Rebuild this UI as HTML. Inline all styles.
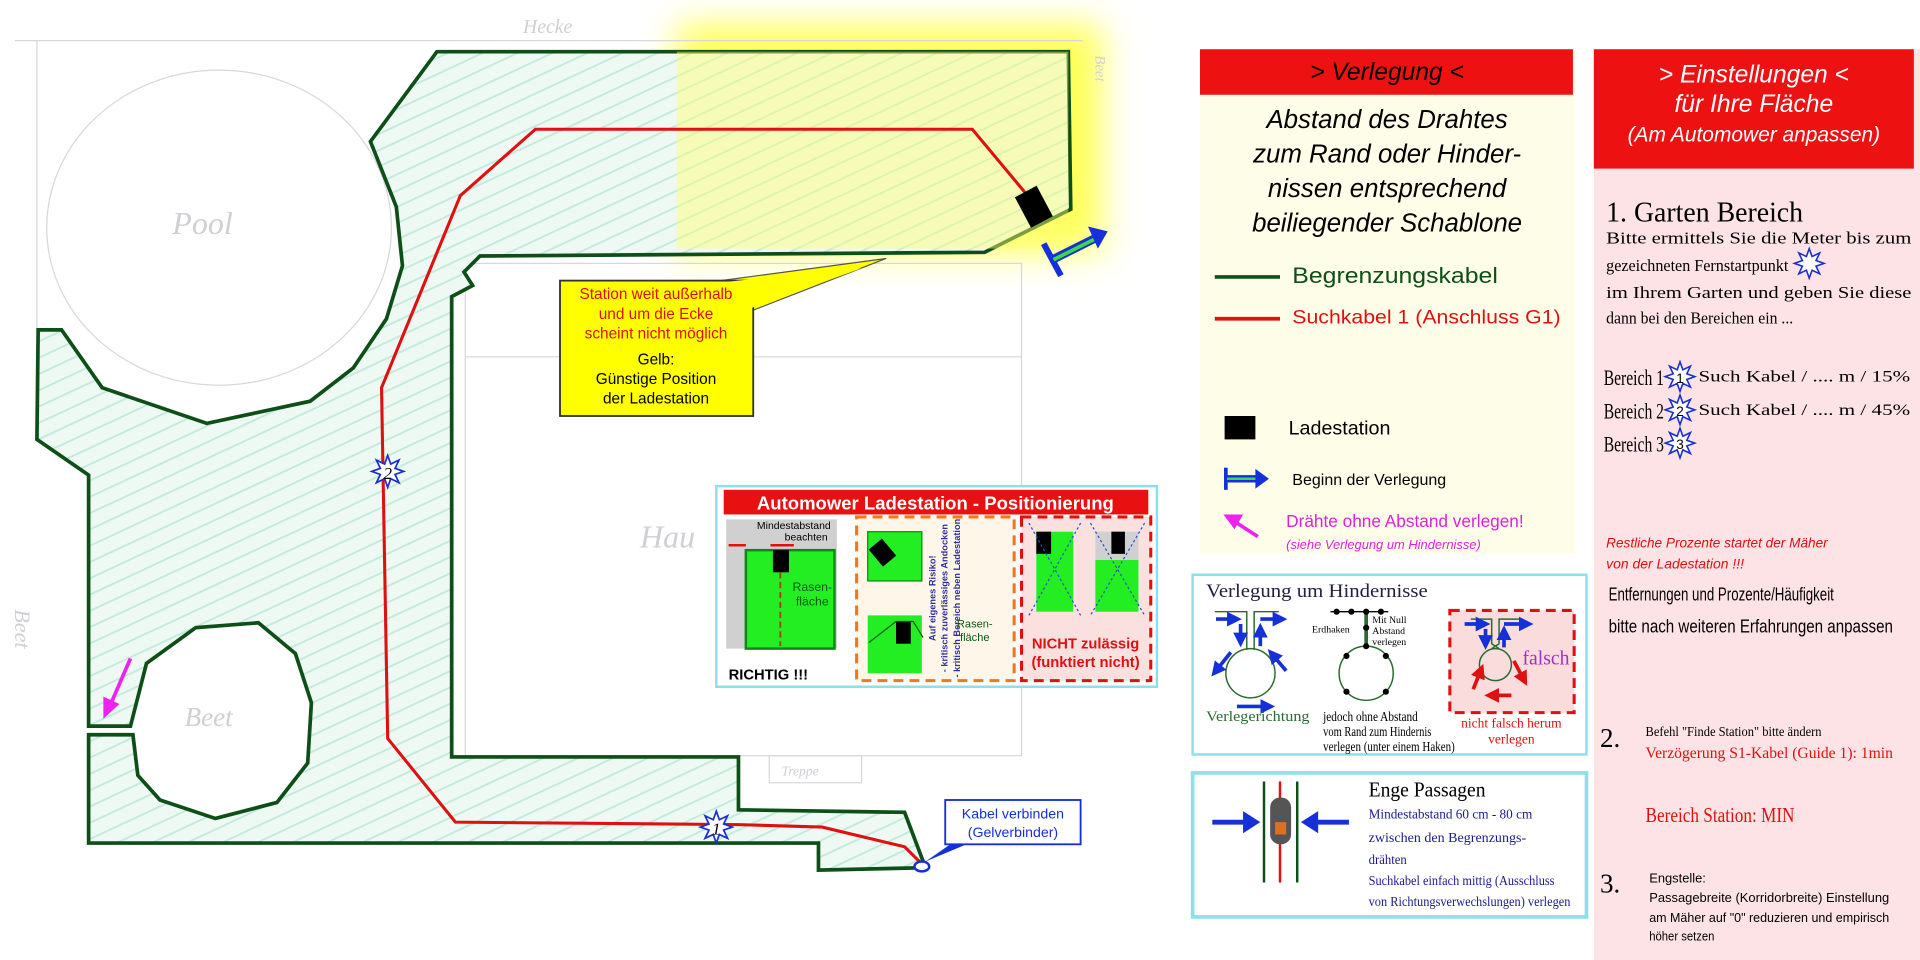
<!DOCTYPE html>
<html><head><meta charset="utf-8"><style>html,body{margin:0;padding:0;background:#fff;overflow:hidden}svg{display:block}</style></head><body>
<svg width="1920" height="960" viewBox="0 0 1560 780" xmlns="http://www.w3.org/2000/svg" font-family="Liberation Sans, DejaVu Sans, sans-serif">
<defs>
<filter id="blur" x="-20%" y="-20%" width="140%" height="140%"><feGaussianBlur stdDeviation="14"/></filter>
<pattern id="hatch" width="12" height="12" patternUnits="userSpaceOnUse" patternTransform="rotate(65)">
<rect width="12" height="12" fill="#eef9f3"/><line x1="0" y1="0" x2="0" y2="12" stroke="#c2eadb" stroke-width="3"/></pattern>
<symbol id="star" viewBox="-13 -13 26 26" overflow="visible"><polygon points="0,-12 2.3,-5.54 8.49,-8.49 5.54,-2.3 12,0 5.54,2.3 8.49,8.49 2.3,5.54 0,12 -2.3,5.54 -8.49,8.49 -5.54,2.3 -12,0 -5.54,-2.3 -8.49,-8.49 -2.3,-5.54" fill="#fff" stroke="#1a2fd0" stroke-width="1.3"/></symbol>
<marker id="ab" markerWidth="4" markerHeight="4" refX="2" refY="2" orient="auto"><path d="M0,0 L4,2 L0,4 Z" fill="#1530d8"/></marker>
<marker id="ar" markerWidth="4" markerHeight="4" refX="2" refY="2" orient="auto"><path d="M0,0 L4,2 L0,4 Z" fill="#e01010"/></marker>
</defs>

<rect x="550" y="20" width="345" height="185" fill="#ffff55" filter="url(#blur)"/>

<g stroke="#d8d8dc" fill="none" stroke-width="1">
<line x1="12" y1="33" x2="880" y2="33"/><line x1="30" y1="33" x2="30" y2="268"/>
<ellipse cx="178" cy="185" rx="140" ry="128"/>
<rect x="378" y="214" width="452" height="400"/>
<line x1="378" y1="290" x2="830" y2="290"/>
<rect x="625" y="614" width="75" height="22"/>
</g>
<g fill="#cfcfd4" font-family="Liberation Serif, serif" font-style="italic">
<text x="140" y="190" font-size="26">Pool</text>
<text x="150" y="590" font-size="22">Beet</text>
<text x="425" y="27" font-size="16">Hecke</text>
<text x="520" y="445" font-size="26">Hau</text>
<text x="635" y="630" font-size="11">Treppe</text>
<text x="12" y="495" font-size="18" transform="rotate(90 12 495)">Beet</text>
<text x="890" y="45" font-size="12" transform="rotate(90 890 45)">Beet</text>
</g>

<path d="M355,42 L868,42 L870,170 L800,205 L390,208 L377,221 L384,232 L367,241 L367,615 L600,615 L600,658 L735,660 L752,705 L665,707 L665,685 L72,685 L72,597 L108,597 L112,630 L130,650 L175,665 L225,652 L250,620 L253,571 L240,531 L210,506 L159,510 L119,539 L106,590 L72,590 L72,386 L30,357 L31,268 L50,268 L83,315 L168,344 L252,326 L287,299 L314,259 L327,216 L322,168 L301,115 Z" fill="url(#hatch)" stroke="#0e4f17" stroke-width="3"/>
<rect x="550" y="42" width="318" height="160" fill="#ffff70" opacity="0.45"/>

<polyline points="752,705 735,688 668,672 600,670 370,668 315,600 310,315 374,159 435,105 790,105 840,165" fill="none" stroke="#e01010" stroke-width="2.5"/>

<use href="#star" x="301" y="369" width="28" height="28"/>
<text x="315" y="389" font-size="14" text-anchor="middle" font-family="Liberation Serif,serif" font-style="italic">2</text>
<use href="#star" x="568" y="658" width="28" height="28"/>
<text x="582" y="678" font-size="14" text-anchor="middle" font-family="Liberation Serif,serif" font-style="italic">1</text>

<rect x="830" y="154" width="20" height="28" fill="#000" transform="rotate(-28 840 168)"/>
<line x1="848" y1="198" x2="862" y2="224" stroke="#1530d8" stroke-width="5"/>
<line x1="855" y1="211" x2="893" y2="192" stroke="#1530d8" stroke-width="7"/>
<line x1="856" y1="211" x2="890" y2="194" stroke="#3dd84a" stroke-width="3"/>
<polygon points="884,184 900,188 892,202" fill="#1530d8"/>

<!-- callout -->
<polygon points="578,229 612,229 612,252 720,210" fill="#ffff00" stroke="#555" stroke-width="1"/>
<rect x="455" y="228" width="157" height="110" fill="#ffff00" stroke="#333" stroke-width="1.5"/>
<polygon points="580,230 611,230 611,250 700,218" fill="#ffff00"/>
<g font-size="12.5" text-anchor="middle">
<text x="533" y="243" fill="#e01010">Station weit außerhalb</text>
<text x="533" y="259" fill="#e01010">und um die Ecke</text>
<text x="533" y="275" fill="#e01010">scheint nicht möglich</text>
<text x="533" y="296">Gelb:</text>
<text x="533" y="312">Günstige Position</text>
<text x="533" y="328">der Ladestation</text>
</g>

<polygon points="775,684 790,684 752,700" fill="#1530d8"/>
<rect x="768" y="650" width="110" height="36" fill="#fff" stroke="#1530d8" stroke-width="1.5"/>
<text x="823" y="665" font-size="11.5" fill="#1530d8" text-anchor="middle">Kabel verbinden</text>
<text x="823" y="680" font-size="11.5" fill="#1530d8" text-anchor="middle">(Gelverbinder)</text>
<ellipse cx="749" cy="704" rx="6" ry="4" fill="#fff" stroke="#1530d8" stroke-width="2"/>

<line x1="106" y1="535" x2="90" y2="572" stroke="#ee22ee" stroke-width="3"/>
<polygon points="84,584 84,566 97,572" fill="#ee22ee"/>

<!-- inset -->
<rect x="582" y="395" width="358" height="163" fill="#fff" stroke="#8ee0e8" stroke-width="2"/>
<rect x="588" y="398" width="345" height="20" fill="#e81010"/>
<text x="760" y="414" font-size="15" font-weight="bold" fill="#fff" text-anchor="middle" textLength="290" lengthAdjust="spacingAndGlyphs">Automower Ladestation - Positionierung</text>
<rect x="590" y="422" width="90" height="105" fill="#d0d0d0"/>
<rect x="606" y="447" width="72" height="80" fill="#22ee22" stroke="#0a8a10" stroke-width="2"/>
<rect x="628" y="447" width="13" height="18" fill="#000"/>
<line x1="634" y1="465" x2="634" y2="525" stroke="#a04010" stroke-width="1.5" stroke-dasharray="5,3"/>
<text x="645" y="430" font-size="8.5" text-anchor="middle">Mindestabstand</text>
<text x="655" y="439" font-size="8.5" text-anchor="middle">beachten</text>
<line x1="592" y1="443" x2="606" y2="443" stroke="#e01010" stroke-width="2"/>
<line x1="626" y1="443" x2="645" y2="443" stroke="#e01010" stroke-width="2"/>
<text x="660" y="480" font-size="10" fill="#0a5a10" text-anchor="middle">Rasen-</text>
<text x="660" y="492" font-size="10" fill="#0a5a10" text-anchor="middle">fläche</text>
<text x="592" y="552" font-size="12" font-weight="bold">RICHTIG !!!</text>
<rect x="696" y="420" width="128" height="133" fill="#fff6ea" stroke="#e87a20" stroke-width="2.5" stroke-dasharray="8,5"/>
<rect x="705" y="432" width="44" height="40" fill="#22ee22" stroke="#0a8a10"/>
<rect x="705" y="500" width="44" height="47" fill="#22ee22"/>
<text x="760" y="486" font-size="7.5" fill="#3030a0" font-weight="bold" text-anchor="middle" transform="rotate(-90 760 486)">Auf eigenes Risiko!</text>
<text x="770" y="486" font-size="7.5" fill="#3030a0" font-weight="bold" text-anchor="middle" transform="rotate(-90 770 486)">- kritisch zuverlässiges Andocken</text>
<text x="780" y="486" font-size="7.5" fill="#3030a0" font-weight="bold" text-anchor="middle" transform="rotate(-90 780 486)">- kritisch Bereich neben Ladestation</text>
<rect x="710" y="440" width="14" height="18" fill="#000" transform="rotate(-40 717 449)"/>
<rect x="728" y="505" width="12" height="18" fill="#000"/>
<polyline points="706,522 728,505 742,505 750,518" fill="none" stroke="#0a5a10"/>
<text x="792" y="510" font-size="9" fill="#0a5a10" text-anchor="middle">Rasen-</text>
<text x="792" y="521" font-size="9" fill="#0a5a10" text-anchor="middle">fläche</text>
<rect x="830" y="420" width="105" height="133" fill="#fbe0e0" stroke="#e01010" stroke-width="2.5" stroke-dasharray="8,5"/>
<rect x="842" y="432" width="30" height="65" fill="#22ee22"/>
<rect x="842" y="432" width="12" height="18" fill="#000"/>
<rect x="890" y="432" width="35" height="65" fill="#d0d0d0"/><rect x="890" y="455" width="35" height="42" fill="#22ee22"/>
<rect x="903" y="432" width="11" height="18" fill="#000"/>
<g stroke="#3050c0" stroke-dasharray="2,2" stroke-width="1"><line x1="836" y1="425" x2="878" y2="500"/><line x1="878" y1="425" x2="836" y2="500"/><line x1="886" y1="425" x2="930" y2="500"/><line x1="930" y1="425" x2="886" y2="500"/></g>
<text x="882" y="527" font-size="12" fill="#e01010" font-weight="bold" text-anchor="middle">NICHT zulässig</text>
<text x="882" y="542" font-size="12" fill="#e01010" font-weight="bold" text-anchor="middle">(funktiert nicht)</text>

<!-- Verlegung panel -->
<rect x="975" y="40" width="305" height="410" fill="#fefde8"/>
<rect x="975" y="40" width="303" height="37" fill="#ee1111"/>
<text x="1127" y="65" font-size="20" font-style="italic" text-anchor="middle">&gt; Verlegung &lt;</text>
<g font-size="21" font-style="italic" text-anchor="middle">
<text x="1127" y="104">Abstand des Drahtes</text>
<text x="1127" y="132">zum Rand oder Hinder-</text>
<text x="1127" y="160">nissen entsprechend</text>
<text x="1127" y="188">beiliegender Schablone</text>
</g>
<line x1="987" y1="225" x2="1040" y2="225" stroke="#0e4f17" stroke-width="3"/>
<text x="1050" y="230" font-size="18" fill="#0e4f17" textLength="167" lengthAdjust="spacingAndGlyphs">Begrenzungskabel</text>
<line x1="987" y1="259" x2="1040" y2="259" stroke="#e01010" stroke-width="3"/>
<text x="1050" y="263" font-size="16" fill="#e01010" textLength="218" lengthAdjust="spacingAndGlyphs">Suchkabel 1 (Anschluss G1)</text>
<rect x="995" y="338" width="25" height="19" fill="#000"/>
<text x="1047" y="353" font-size="16">Ladestation</text>
<line x1="996" y1="380" x2="996" y2="398" stroke="#1530d8" stroke-width="3"/>
<line x1="996" y1="389" x2="1022" y2="389" stroke="#1530d8" stroke-width="6"/>
<line x1="997" y1="389" x2="1021" y2="389" stroke="#3dd84a" stroke-width="2"/>
<polygon points="1020,381 1031,389 1020,397" fill="#1530d8"/>
<text x="1050" y="394" font-size="13">Beginn der Verlegung</text>
<line x1="1022" y1="436" x2="1002" y2="423" stroke="#ee22ee" stroke-width="3"/>
<polygon points="994,418 1010,418 1003,430" fill="#ee22ee"/>
<text x="1045" y="428" font-size="14" fill="#dd22dd" textLength="193" lengthAdjust="spacingAndGlyphs">Drähte ohne Abstand verlegen!</text>
<text x="1045" y="446" font-size="10.5" font-style="italic" fill="#dd22dd">(siehe Verlegung um Hindernisse)</text>

<!-- Hindernisse -->
<rect x="969" y="467" width="320" height="146" fill="#fff" stroke="#8ee0e8" stroke-width="2"/>
<text x="980" y="485" font-size="15" font-family="Liberation Serif,serif" fill="#202040" textLength="180" lengthAdjust="spacingAndGlyphs">Verlegung um Hindernisse</text>
<g stroke="#2a6a30" fill="none" stroke-width="1.2">
<polyline points="987,497 1013,497 1013,528"/><polyline points="1039,497 1019,497 1019,528"/>
<circle cx="1016" cy="547" r="20"/>
<line x1="1081" y1="497" x2="1128" y2="497" stroke="#000"/>
<line x1="1110" y1="497" x2="1110" y2="525" stroke-width="3"/>
<circle cx="1110" cy="547" r="22"/>
<circle cx="1215" cy="540" r="13"/>
<polyline points="1195,503 1212,503 1212,523 1218,527"/><polyline points="1235,503 1218,503 1218,523 1212,527"/>
</g>
<g fill="#000"><circle cx="1086" cy="497" r="2.5"/><circle cx="1098" cy="497" r="2.5"/><circle cx="1110" cy="497" r="2.5"/><circle cx="1122" cy="497" r="2.5"/><circle cx="1110" cy="510" r="2.5"/><circle cx="1110" cy="525" r="2.5"/>
<circle cx="1094" cy="533" r="2.5"/><circle cx="1126" cy="533" r="2.5"/><circle cx="1094" cy="562" r="2.5"/><circle cx="1126" cy="562" r="2.5"/></g>
<text x="1115" y="506" font-size="8" font-family="Liberation Serif,serif">Mit Null</text>
<text x="1115" y="515" font-size="8" font-family="Liberation Serif,serif">Abstand</text>
<text x="1115" y="524" font-size="8" font-family="Liberation Serif,serif">verlegen</text>
<text x="1066" y="514" font-size="8" font-family="Liberation Serif,serif">Erdhaken</text>
<g stroke="#1530d8" stroke-width="3"><line x1="988" y1="503" x2="1003" y2="503" marker-end="url(#ab)"/><line x1="1024" y1="503" x2="1040" y2="503" marker-end="url(#ab)"/>
<line x1="1008" y1="507" x2="1008" y2="520" marker-end="url(#ab)"/><line x1="1024" y1="525" x2="1024" y2="512" marker-end="url(#ab)"/>
<line x1="1000" y1="530" x2="988" y2="545" marker-end="url(#ab)"/><line x1="1045" y1="545" x2="1034" y2="532" marker-end="url(#ab)"/>
<line x1="1005" y1="574" x2="1030" y2="574" marker-end="url(#ab)"/></g>
<rect x="1178" y="496" width="101" height="83" fill="#fbdcdc" stroke="#e01010" stroke-width="2.5" stroke-dasharray="8,5"/>
<g stroke="#2a6a30" fill="none" stroke-width="1.2"><circle cx="1215" cy="540" r="13"/>
<polyline points="1195,503 1212,503 1212,523 1218,527"/><polyline points="1235,503 1218,503 1218,523 1212,527"/></g>
<g stroke="#1530d8" stroke-width="3"><line x1="1190" y1="507" x2="1205" y2="507" marker-end="url(#ab)"/><line x1="1222" y1="507" x2="1240" y2="507" marker-end="url(#ab)"/>
<line x1="1207" y1="511" x2="1207" y2="522" marker-end="url(#ab)"/><line x1="1222" y1="526" x2="1222" y2="514" marker-end="url(#ab)"/></g>
<g stroke="#e01010" stroke-width="3"><line x1="1197" y1="560" x2="1203" y2="545" marker-end="url(#ar)"/><line x1="1230" y1="537" x2="1238" y2="552" marker-end="url(#ar)"/><line x1="1228" y1="565" x2="1212" y2="565" marker-end="url(#ar)"/></g>
<text x="1237" y="540" font-size="16" fill="#a030c0" font-family="Liberation Serif,serif">falsch</text>
<text x="980" y="586" font-size="12" fill="#2a6a30" font-family="Liberation Serif,serif" textLength="84" lengthAdjust="spacingAndGlyphs">Verlegerichtung</text>
<g font-size="11" font-family="Liberation Serif,serif"><text x="1075" y="586" textLength="77" lengthAdjust="spacingAndGlyphs">jedoch ohne Abstand</text><text x="1075" y="598" textLength="88" lengthAdjust="spacingAndGlyphs">vom Rand zum Hindernis</text><text x="1075" y="610" textLength="107" lengthAdjust="spacingAndGlyphs">verlegen (unter einem Haken)</text></g>
<text x="1228" y="591" font-size="11" fill="#e01010" text-anchor="middle" font-family="Liberation Serif,serif">nicht falsch herum</text>
<text x="1228" y="604" font-size="11" fill="#e01010" text-anchor="middle" font-family="Liberation Serif,serif">verlegen</text>

<!-- Enge Passagen -->
<rect x="969" y="628" width="320" height="117" fill="#fff" stroke="#8ee0e8" stroke-width="3"/>
<line x1="1027" y1="635" x2="1027" y2="717" stroke="#0e4f17" stroke-width="2"/>
<line x1="1054" y1="635" x2="1054" y2="717" stroke="#0e4f17" stroke-width="2"/>
<line x1="1040" y1="635" x2="1040" y2="717" stroke="#e01010" stroke-width="2"/>
<rect x="1032" y="648" width="17" height="38" rx="8" fill="#555"/>
<rect x="1036" y="668" width="9" height="10" fill="#e07020"/>
<line x1="985" y1="668" x2="1013" y2="668" stroke="#1530d8" stroke-width="4"/><polygon points="1024,668 1010,659 1010,677" fill="#1530d8"/>
<line x1="1096" y1="668" x2="1068" y2="668" stroke="#1530d8" stroke-width="4"/><polygon points="1057,668 1071,659 1071,677" fill="#1530d8"/>
<text x="1112" y="647" font-size="17" font-family="Liberation Serif,serif" textLength="95" lengthAdjust="spacingAndGlyphs">Enge Passagen</text>
<g font-size="11.5" fill="#1a1a90" font-family="Liberation Serif,serif">
<text x="1112" y="665" textLength="133" lengthAdjust="spacingAndGlyphs">Mindestabstand 60 cm - 80 cm</text><text x="1112" y="684" textLength="128" lengthAdjust="spacingAndGlyphs">zwischen den Begrenzungs-</text><text x="1112" y="702" textLength="31" lengthAdjust="spacingAndGlyphs">drähten</text>
<text x="1112" y="719" textLength="151" lengthAdjust="spacingAndGlyphs">Suchkabel einfach mittig (Ausschluss</text><text x="1112" y="736" textLength="164" lengthAdjust="spacingAndGlyphs">von Richtungsverwechslungen) verlegen</text></g>

<!-- Einstellungen -->
<rect x="1295" y="40" width="265" height="740" fill="#fde3e6"/>
<rect x="1295" y="40" width="260" height="97" fill="#ee1111"/>
<g fill="#fff" font-style="italic" text-anchor="middle">
<text x="1425" y="67" font-size="20">&gt; Einstellungen &lt;</text>
<text x="1425" y="91" font-size="20">für Ihre Fläche</text>
<text x="1425" y="115" font-size="17">(Am Automower anpassen)</text></g>
<g font-family="Liberation Serif,serif">
<text x="1305" y="180" font-size="23" textLength="160" lengthAdjust="spacingAndGlyphs">1. Garten Bereich</text>
<g font-size="14"><text x="1305" y="198" textLength="248" lengthAdjust="spacingAndGlyphs">Bitte ermittels Sie die Meter bis zum</text><text x="1305" y="220" textLength="148" lengthAdjust="spacingAndGlyphs">gezeichneten Fernstartpunkt</text>
<text x="1305" y="242" textLength="248" lengthAdjust="spacingAndGlyphs">im Ihrem Garten und geben Sie diese</text><text x="1305" y="263" textLength="152" lengthAdjust="spacingAndGlyphs">dann bei den Bereichen ein ...</text></g>
<g font-size="18"><text x="1303" y="313" textLength="49" lengthAdjust="spacingAndGlyphs">Bereich 1</text><text x="1303" y="340" textLength="49" lengthAdjust="spacingAndGlyphs">Bereich 2</text><text x="1303" y="367" textLength="49" lengthAdjust="spacingAndGlyphs">Bereich 3</text></g>
<g font-size="13"><text x="1380" y="310" textLength="172" lengthAdjust="spacingAndGlyphs">Such Kabel / .... m / 15%</text><text x="1380" y="337" textLength="172" lengthAdjust="spacingAndGlyphs">Such Kabel / .... m / 45%</text></g>
</g>
<use href="#star" x="1457" y="201" width="26" height="26"/>
<use href="#star" x="1352" y="293" width="26" height="26"/><text x="1365" y="311" font-size="11" text-anchor="middle">1</text>
<use href="#star" x="1352" y="320" width="26" height="26"/><text x="1365" y="338" font-size="11" text-anchor="middle">2</text>
<use href="#star" x="1352" y="347" width="26" height="26"/><text x="1365" y="365" font-size="11" text-anchor="middle">3</text>
<g font-style="italic" fill="#e01010" font-size="11.5"><text x="1305" y="445" textLength="180" lengthAdjust="spacingAndGlyphs">Restliche Prozente  startet der Mäher</text><text x="1305" y="462" textLength="112" lengthAdjust="spacingAndGlyphs">von der Ladestation !!!</text></g>
<g font-size="15"><text x="1307" y="488" textLength="183" lengthAdjust="spacingAndGlyphs">Entfernungen und Prozente/Häufigkeit</text><text x="1307" y="514" textLength="231" lengthAdjust="spacingAndGlyphs">bitte nach weiteren Erfahrungen anpassen</text></g>
<g font-family="Liberation Serif,serif">
<text x="1300" y="607" font-size="22">2.</text>
<text x="1337" y="598" font-size="11.5" textLength="143" lengthAdjust="spacingAndGlyphs">Befehl "Finde Station" bitte ändern</text>
<text x="1337" y="616" font-size="13" fill="#e01010" textLength="201" lengthAdjust="spacingAndGlyphs">Verzögerung S1-Kabel (Guide 1): 1min</text>
<text x="1337" y="668" font-size="17" fill="#e01010" textLength="121" lengthAdjust="spacingAndGlyphs">Bereich Station: MIN</text>
<text x="1300" y="725" font-size="22">3.</text></g>
<g font-size="10.5"><text x="1340" y="717">Engstelle:</text><text x="1340" y="733" textLength="195" lengthAdjust="spacingAndGlyphs">Passagebreite (Korridorbreite) Einstellung</text><text x="1340" y="749" textLength="195" lengthAdjust="spacingAndGlyphs">am Mäher auf "0" reduzieren und empirisch</text><text x="1340" y="764" textLength="53" lengthAdjust="spacingAndGlyphs">höher setzen</text></g>
</svg>
</body></html>
